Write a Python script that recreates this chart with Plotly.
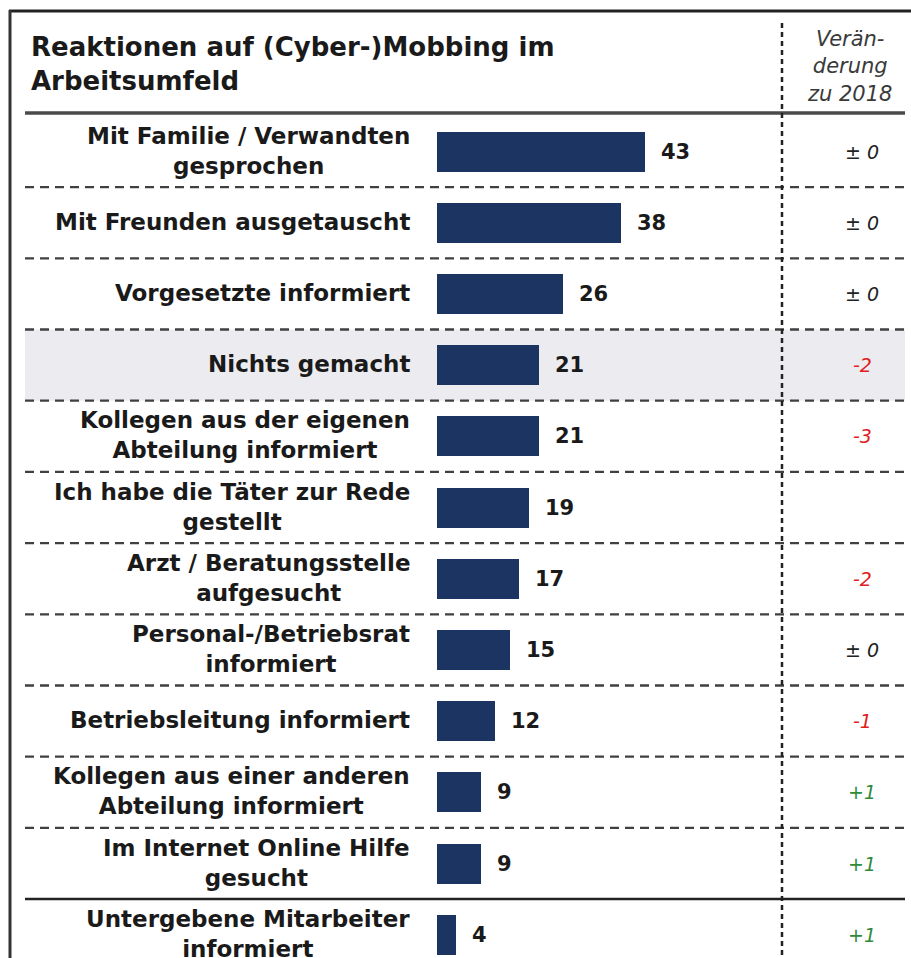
import plotly.graph_objects as go

W, H = 911, 958

title_text = "Reaktionen auf (Cyber-)Mobbing im<br>Arbeitsumfeld"
change_header = "Verän-<br>derung<br>zu 2018"

categories = [
    "Mit Familie / Verwandten<br>gesprochen",
    "Mit Freunden ausgetauscht",
    "Vorgesetzte informiert",
    "Nichts gemacht",
    "Kollegen aus der eigenen<br>Abteilung informiert",
    "Ich habe die Täter zur Rede<br>gestellt",
    "Arzt / Beratungsstelle<br>aufgesucht",
    "Personal-/Betriebsrat<br>informiert",
    "Betriebsleitung informiert",
    "Kollegen aus einer anderen<br>Abteilung informiert",
    "Im Internet Online Hilfe<br>gesucht",
    "Untergebene Mitarbeiter<br>informiert",
]
values = [43, 38, 26, 21, 21, 19, 17, 15, 12, 9, 9, 4]
changes = ["± 0", "± 0", "± 0", "-2", "-3", "", "-2", "± 0", "-1", "+1", "+1", "+1"]
highlight_row = 3

# ---- layout geometry (pixels) ----
BAR_X0 = 437.0
PX_PER_UNIT = 4.837
ROW0 = 151.5
ROW_H = 71.2

def px_x(p):
    return p / W

def px_y(p):
    return 1 - p / H

idx = list(range(len(values)))

BAR_COLOR = "#1b3461"
TXT = "#1a1a1a"

fig = go.Figure()
fig.add_trace(go.Bar(
    x=values, y=idx, orientation="h",
    marker=dict(color=BAR_COLOR, line=dict(width=0)),
    width=40 / ROW_H, hoverinfo="skip", showlegend=False,
))

shapes = []
# frame
shapes.append(dict(type="line", xref="paper", yref="paper",
                   x0=px_x(9), x1=1.0, y0=px_y(11), y1=px_y(11),
                   line=dict(color="#222222", width=3)))
shapes.append(dict(type="line", xref="paper", yref="paper",
                   x0=px_x(10), x1=px_x(10), y0=px_y(10), y1=0,
                   line=dict(color="#333333", width=3)))
# highlight band
shapes.append(dict(type="rect", xref="paper", yref="y", layer="below",
                   x0=px_x(25), x1=px_x(905),
                   y0=highlight_row - 0.5, y1=highlight_row + 0.5,
                   fillcolor="#ececf0", line=dict(width=0)))
# header line
shapes.append(dict(type="line", xref="paper", yref="paper",
                   x0=px_x(25), x1=px_x(905), y0=px_y(113), y1=px_y(113),
                   line=dict(color="#4a4a4a", width=3.5)))
# row separators
n = len(values)
for k in range(n - 1):
    last = (k == n - 2)
    shapes.append(dict(type="line", xref="paper", yref="y",
                       x0=px_x(25), x1=px_x(905), y0=k + 0.5, y1=k + 0.5,
                       line=dict(color="#222222" if last else "#404040",
                                 width=2.5 if last else 2.3,
                                 dash="solid" if last else "9px,6px")))
# vertical dashed line
shapes.append(dict(type="line", xref="paper", yref="paper",
                   x0=px_x(782), x1=px_x(782), y0=px_y(23), y1=0,
                   line=dict(color="#222222", width=2.5, dash="5px,4px")))

annotations = []
annotations.append(dict(xref="paper", yref="paper", x=px_x(29), y=px_y(30),
                        xanchor="left", yanchor="top", align="left",
                        text=title_text, showarrow=False,
                        font=dict(family="DejaVu Sans", size=26, color=TXT, weight="bold")))
annotations.append(dict(xref="paper", yref="paper", x=px_x(849), y=px_y(25),
                        xanchor="center", yanchor="top", align="center",
                        text=change_header, showarrow=False,
                        font=dict(family="DejaVu Sans", size=21, color="#3a3a3a", style="italic")))

for i, (c, v, ch) in enumerate(zip(categories, values, changes)):
    annotations.append(dict(xref="x", yref="y", x=0, y=i, xanchor="right", yanchor="middle",
                            xshift=-25, yshift=1, align="center", text=c, showarrow=False,
                            font=dict(family="DejaVu Sans", size=23, color=TXT, weight="bold")))
    annotations.append(dict(xref="x", yref="y", x=v, y=i, xanchor="left", yanchor="middle",
                            xshift=14, text=str(v), showarrow=False,
                            font=dict(family="DejaVu Sans", size=21, color=TXT, weight="bold")))
    if ch:
        if ch.startswith("-"):
            col = "#e02020"
        elif ch.startswith("+"):
            col = "#2e8b3a"
        else:
            col = "#222222"
        annotations.append(dict(xref="paper", yref="y", x=px_x(862), y=i,
                                xanchor="center", yanchor="middle", text=ch, showarrow=False,
                                font=dict(family="DejaVu Sans", size=19, color=col, style="italic")))

fig.update_layout(
    width=W, height=H,
    margin=dict(l=0, r=0, t=0, b=0),
    paper_bgcolor="white", plot_bgcolor="rgba(0,0,0,0)",
    xaxis=dict(range=[-BAR_X0 / PX_PER_UNIT, (W - BAR_X0) / PX_PER_UNIT],
               visible=False, fixedrange=True, domain=[0, 1]),
    yaxis=dict(range=[(H - ROW0) / ROW_H, -ROW0 / ROW_H],
               visible=False, fixedrange=True, domain=[0, 1]),
    shapes=shapes, annotations=annotations,
    bargap=0, showlegend=False,
)

fig.write_html("out.html", config={"displayModeBar": False},
               post_script="document.body.style.margin='0';document.body.style.overflow='hidden';")
